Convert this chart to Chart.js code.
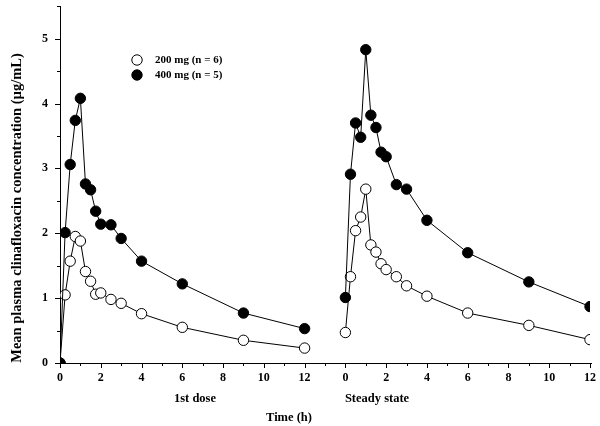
<!DOCTYPE html>
<html><head><meta charset="utf-8">
<script src="https://cdn.jsdelivr.net/npm/chart.js@4.4.1/dist/chart.umd.min.js"></script>
<style>html,body{margin:0;padding:0;background:#fff}#wrap{width:600px;height:426px}</style>
</head><body><div id="wrap"><canvas id="c" width="600" height="426"></canvas></div>
<script>
// Sampling times (h), same for both panels
const times = [0, 0.25, 0.5, 0.75, 1, 1.25, 1.5, 1.75, 2, 2.5, 3, 4, 6, 9, 12];
// 1st dose
const firstDose400 = [0, 2.01, 3.06, 3.74, 4.08, 2.76, 2.67, 2.34, 2.14, 2.13, 1.92, 1.57, 1.22, 0.77, 0.53];
const firstDose200 = [0, 1.05, 1.57, 1.95, 1.88, 1.41, 1.26, 1.06, 1.08, 0.98, 0.92, 0.76, 0.55, 0.35, 0.23];
// Steady state
const steady400 = [1.01, 2.91, 3.70, 3.48, 4.83, 3.82, 3.63, 3.25, 3.18, 2.75, 2.68, 2.20, 1.70, 1.25, 0.87];
const steady200 = [0.47, 1.33, 2.04, 2.25, 2.68, 1.82, 1.71, 1.53, 1.44, 1.33, 1.19, 1.03, 0.77, 0.58, 0.36];
// Layout of the shared time axis: second panel starts after a gap
const panelOffset = 14;
const panelNames = ['1st dose', 'Steady state'];
const seriesNames = ['200 mg (n = 6)', '400 mg (n = 5)'];
const yTickLabels = [0, 1, 2, 3, 4, 5];

const SERIF = '"Liberation Serif", "Times New Roman", serif';

function pts(xs, ys, off) { return xs.map((x, i) => ({x: x + off, y: ys[i]})); }

function ds(label, data, filled) {
  return {
    label, data,
    borderColor: '#000', borderWidth: 1,
    pointRadius: 5.2, pointHoverRadius: 5.2,
    pointBackgroundColor: filled ? '#000' : '#fff',
    pointBorderColor: '#000', pointBorderWidth: 1,
    showLine: true, fill: false, tension: 0
  };
}

const tickPlugin = {
  id: 'ticksAndText',
  afterDraw(chart) {
    const ctx = chart.ctx, xs = chart.scales.x, ys = chart.scales.y;
    ctx.save();
    ctx.strokeStyle = '#000'; ctx.lineWidth = 1;
    // y ticks
    for (let v = 0; v <= 5.5 + 1e-9; v += 0.5) {
      const p = Math.round(ys.getPixelForValue(v)) + 0.5;
      const major = Math.abs(v - Math.round(v)) < 1e-9;
      ctx.beginPath(); ctx.moveTo(xs.left - (major ? 5 : 3), p); ctx.lineTo(xs.left, p); ctx.stroke();
    }
    // x ticks
    for (let v = 0; v <= 26; v += 1) {
      const p = Math.round(xs.getPixelForValue(v)) + 0.5;
      const major = v % 2 === 0;
      ctx.beginPath(); ctx.moveTo(p, ys.bottom); ctx.lineTo(p, ys.bottom + (major ? 5 : 3)); ctx.stroke();
    }
    // extend the x axis line slightly past the last tick
    ctx.beginPath(); ctx.moveTo(xs.right, ys.bottom + 0.5); ctx.lineTo(xs.right + 2, ys.bottom + 0.5); ctx.stroke();
    // texts
    ctx.fillStyle = '#000';
    ctx.font = 'bold 12.5px ' + SERIF;
    ctx.textAlign = 'center'; ctx.textBaseline = 'middle';
    ctx.fillText(panelNames[0], 195, 399);
    ctx.fillText(panelNames[1], 377, 399);
    ctx.fillText('Time (h)', 289, 418);
    ctx.save();
    ctx.font = 'bold 14.5px ' + SERIF;
    ctx.translate(17, 208);
    ctx.rotate(-Math.PI / 2);
    ctx.fillText('Mean plasma clinafloxacin concentration (\u00b5g/mL)', 0, 0);
    ctx.restore();
    // legend
    const leg = [[60, '#fff', seriesNames[0]], [75, '#000', seriesNames[1]]];
    ctx.textAlign = 'left';
    ctx.font = 'bold 11px ' + SERIF;
    for (const [y, col, txt] of leg) {
      ctx.beginPath(); ctx.arc(137, y, 5.2, 0, Math.PI * 2);
      ctx.fillStyle = col; ctx.fill(); ctx.stroke();
      ctx.fillStyle = '#000';
      ctx.fillText(txt, 155, y);
    }
    ctx.restore();
  }
};

new Chart(document.getElementById('c'), {
  type: 'scatter',
  data: {
    datasets: [
      ds(seriesNames[1], pts(times, firstDose400, 0), true),
      ds(seriesNames[1], pts(times, steady400, panelOffset), true),
      ds(seriesNames[0], pts(times, firstDose200, 0), false),
      ds(seriesNames[0], pts(times, steady200, panelOffset), false)
    ]
  },
  options: {
    responsive: false, animation: false, devicePixelRatio: 1,
    layout: {padding: {top: 3, right: 10, left: 0, bottom: 0}},
    plugins: {legend: {display: false}, tooltip: {enabled: false}},
    scales: {
      x: {
        type: 'linear', min: 0, max: 26,
        grid: {display: false, drawTicks: false},
        border: {display: true, color: '#000', width: 1},
        ticks: {
          stepSize: 2, autoSkip: false, maxRotation: 0, padding: 8,
          color: '#000', font: {family: SERIF, weight: 'bold', size: 12},
          callback: (v) => {
            if (v <= 12) return String(v);
            if (v >= panelOffset) return String(v - panelOffset);
            return null;
          }
        },
        afterFit: (s) => { s.height = 63; s.paddingLeft = 0; s.paddingRight = 0; }
      },
      y: {
        type: 'linear', min: 0, max: 5.5,
        grid: {display: false, drawTicks: false},
        border: {display: true, color: '#000', width: 1},
        ticks: {
          stepSize: 1, autoSkip: false, padding: 12,
          color: '#000', font: {family: SERIF, weight: 'bold', size: 12},
          callback: (v) => yTickLabels.includes(v) ? String(v) : null
        },
        afterFit: (s) => { s.width = 60; s.paddingTop = 0; s.paddingBottom = 0; }
      }
    }
  },
  plugins: [tickPlugin]
});
</script>
</body></html>
